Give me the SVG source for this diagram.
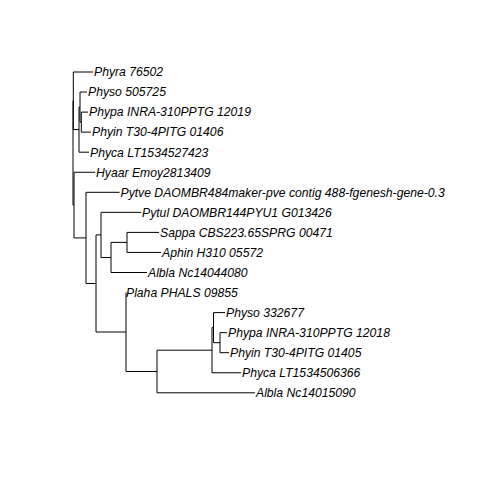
<svg xmlns="http://www.w3.org/2000/svg" width="480" height="480" viewBox="0 0 480 480">
<style>
.e{stroke:#000;stroke-width:1;fill:none}
.t{font-family:"Liberation Sans",Arial,sans-serif;font-style:italic;font-size:12.2px;fill:#000}
</style>
<rect width="480" height="480" fill="#fff"/>
<g id="connectors" class="e">
<path d="M73 100.8V205.1M73 100.8H73.3M73 205.1H74"/>
<path d="M73.3 72V129.6M73.3 72H93M73.3 129.6H79"/>
<path d="M79 107.1V152.2M79 107.1H80M79 152.2H89"/>
<path d="M80 92.05V122.1M80 92.05H87M80 122.1H81.3"/>
<path d="M81.3 112.1V132.15M81.3 112.1H88M81.3 132.15H91"/>
<path d="M74 172.25V237.9M74 172.25H95M74 237.9H86"/>
<path d="M86 192.3V283.5M86 192.3H119.5M86 283.5H96"/>
<path d="M96 234.9V332M96 234.9H101M96 332H126"/>
<path d="M101 212.35V257.5M101 212.35H141M101 257.5H111"/>
<path d="M111 242.4V272.5M111 242.4H127M111 272.5H147"/>
<path d="M127 232.4V252.45M127 232.4H159M127 252.45H161"/>
<path d="M126 292.55V371.5M126 371.5H157"/>
<path d="M157 350.2V392.8M157 350.2H212M157 392.8H255"/>
<path d="M212 327.6V372.75M212 327.6H213.5M212 372.75H241"/>
<path d="M213.5 312.6V342.7M213.5 312.6H225M213.5 342.7H220"/>
<path d="M220 332.65V352.7M220 332.65H227M220 352.7H229"/>
</g>
<g id="tip-phyra-76502"><text class="t" x="94" y="76.3">Phyra 76502</text></g>
<g id="tip-physo-505725"><text class="t" x="88" y="96.35">Physo 505725</text></g>
<g id="tip-phypa-12019"><text class="t" x="89" y="116.4">Phypa INRA-310PPTG 12019</text></g>
<g id="tip-phyin-01406"><text class="t" x="92" y="136.45">Phyin T30-4PITG 01406</text></g>
<g id="tip-phyca-lt1534527423"><text class="t" x="90" y="156.5">Phyca LT1534527423</text></g>
<g id="tip-hyaar"><text class="t" x="96" y="176.55">Hyaar Emoy2813409</text></g>
<g id="tip-pytve"><text class="t" x="120.5" y="196.6">Pytve DAOMBR484maker-pve contig 488-fgenesh-gene-0.3</text></g>
<g id="tip-pytul"><text class="t" x="142" y="216.65">Pytul DAOMBR144PYU1 G013426</text></g>
<g id="tip-sappa"><text class="t" x="160" y="236.7">Sappa CBS223.65SPRG 00471</text></g>
<g id="tip-aphin"><text class="t" x="162" y="256.75">Aphin H310 05572</text></g>
<g id="tip-albla-nc14044080"><text class="t" x="148" y="276.8">Albla Nc14044080</text></g>
<g id="tip-plaha"><text class="t" x="126" y="296.85">Plaha PHALS 09855</text></g>
<g id="tip-physo-332677"><text class="t" x="226" y="316.9">Physo 332677</text></g>
<g id="tip-phypa-12018"><text class="t" x="228" y="336.95">Phypa INRA-310PPTG 12018</text></g>
<g id="tip-phyin-01405"><text class="t" x="230" y="357">Phyin T30-4PITG 01405</text></g>
<g id="tip-phyca-lt1534506366"><text class="t" x="242" y="377.05">Phyca LT1534506366</text></g>
<g id="tip-albla-nc14015090"><text class="t" x="256" y="397.1">Albla Nc14015090</text></g>
</svg>
